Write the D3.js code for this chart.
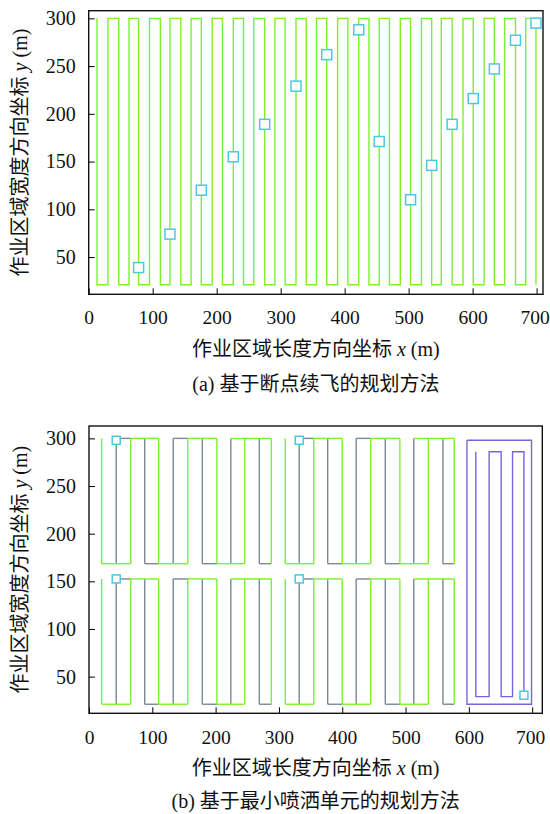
<!DOCTYPE html>
<html>
<head>
<meta charset="utf-8">
<script src="https://cdn.jsdelivr.net/npm/d3@7"></script>
<style>
body { margin: 0; background: #fff; }
text { fill: #111; }
</style>
</head>
<body>
<div id="chart"></div>
<script>
var width = 550,
    height = 814,
    font = "'Liberation Serif', 'Noto Sans CJK SC', serif";

var xTicks = [0, 100, 200, 300, 400, 500, 600, 700],
    yTicks = [50, 100, 150, 200, 250, 300];

// (a) flight lanes (m)
var lanesA = [13, 30, 47, 63, 78, 95, 112, 127, 144, 160, 176, 193, 209, 226, 242,
    258, 275, 291, 307, 324, 340, 356, 372, 389, 405, 422, 438, 454, 470, 487, 503,
    520, 536, 551, 568, 585, 601, 618, 634, 650, 667, 683, 699];
var laneTopA = 300, laneBottomA = 21;
// (a) breakpoints
var breakX = [78, 127, 176, 226, 275, 324, 372, 422, 454, 503, 536, 568, 601, 634, 667, 699],
    breakY = [39, 74, 120, 155, 189, 229, 262, 288, 171, 110, 146, 189, 216, 247, 277, 295];

// (b) spray units: two columns of lanes, two rows (bands)
var unitLanes = [
    [20, 43, 66, 88, 110, 133, 156, 179, 202, 224, 246, 269, 288],
    [310, 332, 355, 377, 400, 422, 445, 468, 491, 513, 536, 559, 577]
];
var bandTop = [300, 152.5],
    bandBottom = [168.5, 21];
// lane index pairs joined at the top / bottom of a band
var greenTop = [[2, 4], [6, 8], [9, 12]],
    greenBottom = [[0, 2], [4, 6], [8, 10]],
    grayTop = [[1, 2], [5, 6]],
    grayBottom = [[3, 4], [7, 8], [11, 12]];
// last unit
var boxX = [597, 699], boxY = [21, 298];
var innerLanes = [611, 632, 651, 669, 687];
var innerTop = 286, innerBottom = 29, innerEnd = 31;
var startX = [43, 43, 332, 332, 687],
    startY = [298, 152.5, 298, 152.5, 30.5];

var green = "#7cf22e", gray = "#7a8898", purple = "#7466df", cyan = "#4fc6e2";

var svg = d3.select("#chart").append("svg")
    .attr("width", width)
    .attr("height", height);

function panel(p) {
    var x = d3.scaleLinear().domain(p.xDomain).range([p.left, p.right]);
    var y = d3.scaleLinear().domain(p.yDomain).range([p.bottom, p.top]);
    var g = svg.append("g");

    g.append("g")
        .attr("transform", "translate(0," + p.bottom + ")")
        .call(d3.axisBottom(x).tickValues(xTicks).tickSizeInner(-6).tickSizeOuter(0).tickPadding(p.xPad))
        .attr("font-family", font)
        .attr("font-size", 19.5)
        .call(function (a) {
            a.select(".domain").remove();
            // keep the last label inside the page
            a.selectAll(".tick text").filter(function (d) { return d === 700; }).attr("dx", -2);
        });

    g.append("g")
        .attr("transform", "translate(" + p.left + ",0)")
        .call(d3.axisLeft(y).tickValues(yTicks).tickSizeInner(-6).tickSizeOuter(0).tickPadding(13))
        .attr("font-family", font)
        .attr("font-size", 20)
        .call(function (a) { a.select(".domain").remove(); });

    g.append("rect")
        .attr("x", p.left)
        .attr("y", p.top)
        .attr("width", p.right - p.left)
        .attr("height", p.bottom - p.top)
        .attr("fill", "none")
        .attr("stroke", "#111")
        .attr("stroke-width", 1.4);

    var xl = g.append("text")
        .attr("x", (p.left + p.right) / 2)
        .attr("y", p.xLabelY)
        .attr("text-anchor", "middle")
        .attr("font-family", font)
        .attr("font-size", 20);
    xl.append("tspan").text("作业区域长度方向坐标 ");
    xl.append("tspan").attr("font-style", "italic").text("x");
    xl.append("tspan").text(" (m)");

    var yl = g.append("text")
        .attr("transform", "translate(27," + (p.top + p.bottom) / 2 + ") rotate(-90)")
        .attr("text-anchor", "middle")
        .attr("font-family", font)
        .attr("font-size", 20);
    yl.append("tspan").text("作业区域宽度方向坐标 ");
    yl.append("tspan").attr("font-style", "italic").text("y");
    yl.append("tspan").text(" (m)");

    g.append("text")
        .attr("x", (p.left + p.right) / 2)
        .attr("y", p.captionY)
        .attr("text-anchor", "middle")
        .attr("font-family", font)
        .attr("font-size", 20)
        .text(p.caption);

    return {g: g, x: x, y: y};
}

var line = function (x, y) {
    return d3.line().x(function (d) { return x(d[0]); }).y(function (d) { return y(d[1]); });
};

// ---- (a) ----
var a = panel({
    xDomain: [0, 710], yDomain: [11, 308],
    left: 88.7, right: 543, top: 10.7, bottom: 294.3,
    xPad: 15.5, xLabelY: 356, captionY: 391,
    caption: "(a) 基于断点续飞的规划方法"
});

var ptsA = [];
lanesA.forEach(function (lx, i) {
    if (i % 2 === 0) {
        ptsA.push([lx, laneTopA], [lx, laneBottomA]);
    } else {
        ptsA.push([lx, laneBottomA], [lx, laneTopA]);
    }
});

a.g.append("path")
    .datum(ptsA)
    .attr("d", line(a.x, a.y))
    .attr("fill", "none")
    .attr("stroke", green)
    .attr("stroke-width", 1.4);

a.g.selectAll(".brk")
    .data(breakX)
    .enter().append("rect")
    .attr("class", "brk")
    .attr("x", function (d) { return a.x(d) - 5; })
    .attr("y", function (d, i) { return a.y(breakY[i]) - 5; })
    .attr("width", 10)
    .attr("height", 10)
    .attr("fill", "#fff")
    .attr("stroke", cyan)
    .attr("stroke-width", 1.5);

// ---- (b) ----
var b = panel({
    xDomain: [0, 716], yDomain: [11.5, 313],
    left: 89, right: 542.3, top: 426, bottom: 713.3,
    xPad: 17, xLabelY: 775, captionY: 808,
    caption: "(b) 基于最小喷洒单元的规划方法"
});

function segs(lanes, top, bottom, vert, tops, bottoms) {
    var out = [];
    vert.forEach(function (i) { out.push([[lanes[i], top], [lanes[i], bottom]]); });
    tops.forEach(function (s) { out.push([[lanes[s[0]], top], [lanes[s[1]], top]]); });
    bottoms.forEach(function (s) { out.push([[lanes[s[0]], bottom], [lanes[s[1]], bottom]]); });
    return out;
}

var graySegs = [], greenSegs = [];
unitLanes.forEach(function (lanes) {
    bandTop.forEach(function (t, k) {
        graySegs = graySegs.concat(segs(lanes, t, bandBottom[k], [1, 3, 5, 7, 9, 11], grayTop, grayBottom));
        greenSegs = greenSegs.concat(segs(lanes, t, bandBottom[k], [0, 2, 4, 6, 8, 10, 12], greenTop, greenBottom));
    });
});

b.g.selectAll(".gray")
    .data(graySegs)
    .enter().append("path")
    .attr("class", "gray")
    .attr("d", line(b.x, b.y))
    .attr("fill", "none")
    .attr("stroke", gray)
    .attr("stroke-width", 1.4);

b.g.selectAll(".green")
    .data(greenSegs)
    .enter().append("path")
    .attr("class", "green")
    .attr("d", line(b.x, b.y))
    .attr("fill", "none")
    .attr("stroke", green)
    .attr("stroke-width", 1.4);

b.g.append("path")
    .datum([[boxX[0], boxY[1]], [boxX[1], boxY[1]], [boxX[1], boxY[0]], [boxX[0], boxY[0]], [boxX[0], boxY[1]]])
    .attr("d", line(b.x, b.y))
    .attr("fill", "none")
    .attr("stroke", purple)
    .attr("stroke-width", 1.4);

var ptsIn = [];
innerLanes.forEach(function (lx, i) {
    var last = i === innerLanes.length - 1;
    if (i % 2 === 0) {
        ptsIn.push([lx, innerTop], [lx, last ? innerEnd : innerBottom]);
    } else {
        ptsIn.push([lx, innerBottom], [lx, innerTop]);
    }
});

b.g.append("path")
    .datum(ptsIn)
    .attr("d", line(b.x, b.y))
    .attr("fill", "none")
    .attr("stroke", purple)
    .attr("stroke-width", 1.4);

b.g.selectAll(".start")
    .data(startX)
    .enter().append("rect")
    .attr("class", "start")
    .attr("x", function (d) { return b.x(d) - 4; })
    .attr("y", function (d, i) { return b.y(startY[i]) - 4; })
    .attr("width", 8)
    .attr("height", 8)
    .attr("fill", "#fff")
    .attr("stroke", cyan)
    .attr("stroke-width", 1.5);
</script>
</body>
</html>
